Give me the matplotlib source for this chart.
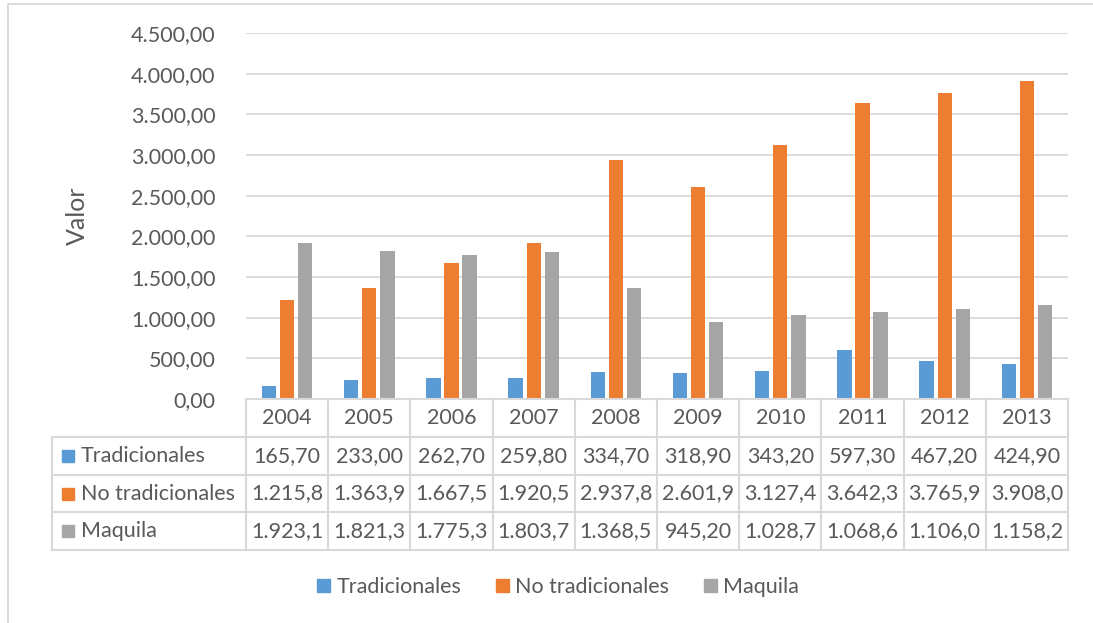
import matplotlib
matplotlib.use("Agg")
import matplotlib.pyplot as plt
from matplotlib.lines import Line2D
from matplotlib.patches import Patch, Rectangle

plt.rcParams['font.family'] = ['Lato', 'DejaVu Sans']

years = ['2004', '2005', '2006', '2007', '2008', '2009', '2010', '2011', '2012', '2013']
series_names = ['Tradicionales', 'No tradicionales', 'Maquila']
tradicionales = [165.70, 233.00, 262.70, 259.80, 334.70, 318.90, 343.20, 597.30, 467.20, 424.90]
no_tradicionales = [1215.8, 1363.9, 1667.5, 1920.5, 2937.8, 2601.9, 3127.4, 3642.3, 3765.9, 3908.0]
maquila = [1923.1, 1821.3, 1775.3, 1803.7, 1368.5, 945.20, 1028.7, 1068.6, 1106.0, 1158.2]
y_ticks = [0, 500, 1000, 1500, 2000, 2500, 3000, 3500, 4000, 4500]

colors = ['#5B9BD5', '#ED7D31', '#A5A5A5']
text_c = '#595959'
grid_c = '#D9D9D9'
fs = 15.5

W, H = 1093, 623
fig = plt.figure(figsize=(W / 100, H / 100), dpi=100)


def fx(px):
    return px / W


def fy(py):
    return 1 - py / H


def num(v):
    # '.' for thousands, ',' for decimals
    return f"{v:,.2f}".replace(',', 'X').replace('.', ',').replace('X', '.')


# outer chart border
fig.add_artist(Line2D([fx(8), fx(8), fx(W)], [fy(H), fy(4), fy(4)],
                      color=grid_c, lw=1.3, transform=fig.transFigure))

# plot area
left, right, top, bottom = 246, 1068, 33, 399
ax = fig.add_axes([fx(left), fy(bottom), fx(right - left), fy(top) - fy(bottom)])
n = len(years)
series = [tradicionales, no_tradicionales, maquila]
bw = 0.175
step = 0.22
for k, (vals, c) in enumerate(zip(series, colors)):
    xs = [i + 0.5 + (k - 1) * step for i in range(n)]
    ax.bar(xs, vals, width=bw, color=c, zorder=3)
ax.set_xlim(0, n)
ax.set_ylim(0, 4500)
ax.set_yticks(y_ticks)
ax.set_yticklabels([num(v) for v in y_ticks])
ax.set_xticks([])
ax.tick_params(axis='y', length=0, labelsize=fs, labelcolor=text_c, pad=22)
ax.grid(axis='y', color=grid_c, lw=1.3, zorder=0)
for s in ax.spines.values():
    s.set_visible(False)
ax.set_ylabel('Valor', fontsize=18, color=text_c, labelpad=30)

# data table (Excel cuts the numbers to the column width)
tleft, row_h = 52, 37.8
cw = (right - left) / n
lab_w = (left - tleft) / cw
tax = fig.add_axes([fx(tleft), fy(bottom + 4 * row_h), fx(right - tleft), fy(bottom) - fy(bottom + 4 * row_h)])
tax.set_xlim(-lab_w, n)
tax.set_ylim(4, 0)
tax.axis('off')
lc = dict(color=grid_c, lw=1.5, clip_on=False)
tax.plot([0, n], [0, 0], **lc)
for r in range(1, 5):
    tax.plot([-lab_w, n], [r, r], **lc)
for c in range(n + 1):
    tax.plot([c, c], [0, 4], **lc)
tax.plot([-lab_w, -lab_w], [1, 4], **lc)
for i, y in enumerate(years):
    tax.text(i + 0.5, 0.5, y, ha='center', va='center', fontsize=fs, color=text_c)
sq_w = 12 / cw
sq_h = 12 / row_h
for r, (name, vals, c) in enumerate(zip(series_names, series, colors)):
    x0 = -lab_w + 10 / cw
    tax.add_patch(Rectangle((x0, r + 1.5 - sq_h / 2), sq_w, sq_h, color=c, clip_on=False))
    tax.text(-lab_w + 29 / cw, r + 1.5, name, ha='left', va='center', fontsize=fs, color=text_c)
    for i, v in enumerate(vals):
        tax.text(i + 0.5, r + 1.5, num(v)[:7], ha='center', va='center', fontsize=fs, color=text_c)

# legend
handles = [Patch(color=c, label=nm) for nm, c in zip(series_names, colors)]
fig.legend(handles=handles, loc='center', bbox_to_anchor=(fx(558), fy(587)), ncol=3,
           frameon=False, fontsize=fs, labelcolor=text_c, handlelength=0.6, handleheight=0.6,
           handletextpad=0.3, columnspacing=1.6)

fig.savefig('out.png', dpi=100, facecolor='white')
